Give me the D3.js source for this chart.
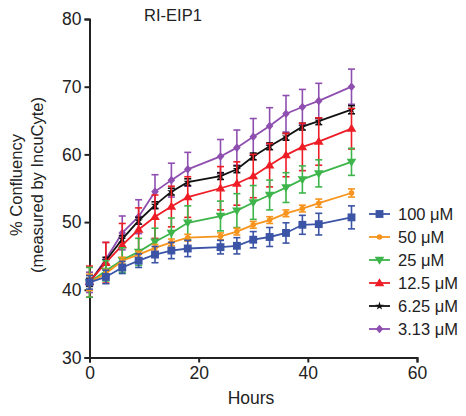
<!DOCTYPE html>
<html>
<head>
<meta charset="utf-8">
<script src="https://cdn.jsdelivr.net/npm/d3@7"></script>
<style>
  body { margin: 0; background: #fff; }
  text { font-family: Arial, "Liberation Sans", sans-serif; fill: #222; }
</style>
</head>
<body>
<script>
// time points (hours)
const hours = [0, 3, 6, 9, 12, 15, 18, 24, 27, 30, 33, 36, 39, 42, 48]

const doses = ['100 μM', '50 μM', '25 μM', '12.5 μM', '6.25 μM', '3.13 μM']
const colors = ['#3b54a5', '#f7941d', '#3db54a', '#ee1c25', '#111111', '#8e4fb0']
const symbols = ['square', 'circle', 'triDown', 'triUp', 'star', 'diamond']

// mean % confluency per dose
const mean100 = [41.1, 41.9, 43.3, 44.3, 45.2, 45.8, 46.1, 46.3, 46.5, 47.4, 47.8, 48.4, 49.6, 49.7, 50.7]
const mean50 = [41.1, 42.4, 44.3, 45.2, 46.2, 47.0, 47.7, 47.9, 48.6, 49.6, 50.3, 51.3, 52.0, 52.8, 54.3]
const mean25 = [41.1, 42.8, 44.4, 45.6, 47.1, 48.4, 49.9, 50.9, 51.7, 52.9, 54.0, 55.1, 56.3, 57.2, 58.9]
const mean12 = [41.2, 44.0, 46.6, 48.9, 50.8, 52.3, 53.7, 55.0, 55.7, 56.8, 58.4, 59.9, 61.1, 61.9, 63.8]
const mean6 = [41.1, 44.3, 47.5, 50.2, 52.5, 54.5, 55.9, 56.8, 57.8, 59.7, 61.2, 62.6, 64.1, 64.9, 66.6]
const mean3 = [41.1, 44.5, 48.4, 50.8, 54.5, 56.2, 57.8, 59.7, 61.0, 62.6, 64.2, 66.0, 67.0, 67.9, 70.0]

// SEM per dose
const err100 = [1.0, 1.0, 0.9, 1.0, 1.2, 1.2, 1.2, 1.0, 1.2, 1.2, 1.4, 1.5, 1.4, 1.6, 1.7]
const err50 = [1.2, 0.6, 0.5, 0.5, 0.5, 0.5, 0.5, 0.5, 0.5, 0.5, 0.5, 0.5, 0.5, 0.6, 0.6]
const err25 = [2.2, 1.5, 1.8, 2.0, 2.0, 2.2, 2.5, 2.2, 2.5, 2.5, 2.2, 2.2, 2.0, 2.0, 2.0]
const err12 = [2.3, 3.0, 3.2, 3.2, 3.2, 3.0, 3.0, 3.2, 3.2, 3.2, 3.2, 3.2, 3.5, 3.5, 3.0]
const err6 = [0.6, 0.5, 0.5, 0.5, 0.5, 0.5, 0.5, 0.5, 0.5, 0.5, 0.5, 0.5, 0.5, 0.5, 0.6]
const err3 = [1.5, 2.5, 2.5, 2.5, 2.5, 2.5, 2.5, 2.5, 2.6, 2.7, 2.7, 2.7, 2.6, 2.6, 2.6]

const means = [mean100, mean50, mean25, mean12, mean6, mean3]
const errs = [err100, err50, err25, err12, err6, err3]

const xTicks = [0, 20, 40, 60]
const yTicks = [30, 40, 50, 60, 70, 80]

const width = 466
const height = 416

const svg = d3.select('body')
  .append('svg')
  .attr('width', width)
  .attr('height', height)

const x = d3.scaleLinear().domain([0, 60]).range([89.5, 417])
const y = d3.scaleLinear().domain([30, 80]).range([357.5, 19])

// axes
const xAxis = svg.append('g')
  .attr('transform', `translate(0,${y(30)})`)
  .call(d3.axisBottom(x).tickValues(xTicks).tickSize(5).tickPadding(2))
const yAxis = svg.append('g')
  .attr('transform', `translate(${x(0)},0)`)
  .call(d3.axisLeft(y).tickValues(yTicks).tickSize(5).tickPadding(3))

;[xAxis, yAxis].forEach(g => {
  g.select('.domain').attr('stroke', '#222').attr('stroke-width', 2)
  g.selectAll('.tick line').attr('stroke', '#222').attr('stroke-width', 2)
  g.selectAll('.tick text').attr('font-size', 17.5).attr('fill', '#222')
    .attr('font-family', 'Arial, "Liberation Sans", sans-serif')
})
xAxis.selectAll('.tick text').attr('dy', '0.85em')

// symbol builder
function symbolPath(kind) {
  switch (kind) {
    case 'square': return d3.symbol(d3.symbolSquare, 62)()
    case 'circle': return d3.symbol(d3.symbolCircle, 24)()
    case 'triDown': return 'M-4.8,-3.2L4.8,-3.2L0,4.8Z'
    case 'triUp': return 'M-4.8,3.2L4.8,3.2L0,-4.8Z'
    case 'star': return d3.symbol(d3.symbolStar, 22)()
    case 'diamond': return 'M0,-4.3L3.8,0L0,4.3L-3.8,0Z'
  }
}

const line = d3.line().x(d => x(d.t)).y(d => y(d.v))

const plot = svg.append('g')
for (let s = doses.length - 1; s >= 0; s--) {
  const pts = hours.map((t, i) => ({ t, v: means[s][i], e: errs[s][i] }))
  const g = plot.append('g')
  const col = colors[s]
  // error bars
  const eb = g.selectAll('.eb').data(pts).enter().append('g')
  eb.append('line')
    .attr('x1', d => x(d.t)).attr('x2', d => x(d.t))
    .attr('y1', d => y(d.v - d.e)).attr('y2', d => y(d.v + d.e))
    .attr('stroke', col).attr('stroke-width', 1.6)
  eb.append('line')
    .attr('x1', d => x(d.t) - 3.5).attr('x2', d => x(d.t) + 3.5)
    .attr('y1', d => y(d.v + d.e)).attr('y2', d => y(d.v + d.e))
    .attr('stroke', col).attr('stroke-width', 1.6)
  eb.append('line')
    .attr('x1', d => x(d.t) - 3.5).attr('x2', d => x(d.t) + 3.5)
    .attr('y1', d => y(d.v - d.e)).attr('y2', d => y(d.v - d.e))
    .attr('stroke', col).attr('stroke-width', 1.6)
  g.append('path')
    .attr('d', line(pts))
    .attr('fill', 'none')
    .attr('stroke', col)
    .attr('stroke-width', 1.8)
  g.selectAll('.mk').data(pts).enter().append('path')
    .attr('d', symbolPath(symbols[s]))
    .attr('transform', d => `translate(${x(d.t)},${y(d.v)})`)
    .attr('fill', col)
}

// legend
const legend = svg.append('g')
doses.forEach((name, i) => {
  const ly = 214 + i * 23
  legend.append('line')
    .attr('x1', 369).attr('x2', 390).attr('y1', ly).attr('y2', ly)
    .attr('stroke', colors[i]).attr('stroke-width', 1.8)
  legend.append('path')
    .attr('d', symbolPath(symbols[i]))
    .attr('transform', `translate(379.5,${ly})`)
    .attr('fill', colors[i])
  legend.append('text')
    .attr('x', 398).attr('y', ly).attr('dy', '0.35em')
    .attr('font-size', 16.5)
    .text(name)
})

// title and labels
svg.append('text')
  .attr('x', 173).attr('y', 15).attr('dy', '0.35em')
  .attr('text-anchor', 'middle').attr('font-size', 16.5)
  .text('RI-EIP1')

svg.append('text')
  .attr('x', 251).attr('y', 398).attr('dy', '0.35em')
  .attr('text-anchor', 'middle').attr('font-size', 17.5)
  .text('Hours')

const yl = svg.append('text')
  .attr('transform', 'translate(22,185) rotate(-90)')
  .attr('text-anchor', 'middle').attr('font-size', 16.5)
yl.append('tspan').attr('x', 0).attr('dy', 0).text('% Confluency')
yl.append('tspan').attr('x', 0).attr('dy', '1.3em').text('(measured by IncuCyte)')
</script>
</body>
</html>
